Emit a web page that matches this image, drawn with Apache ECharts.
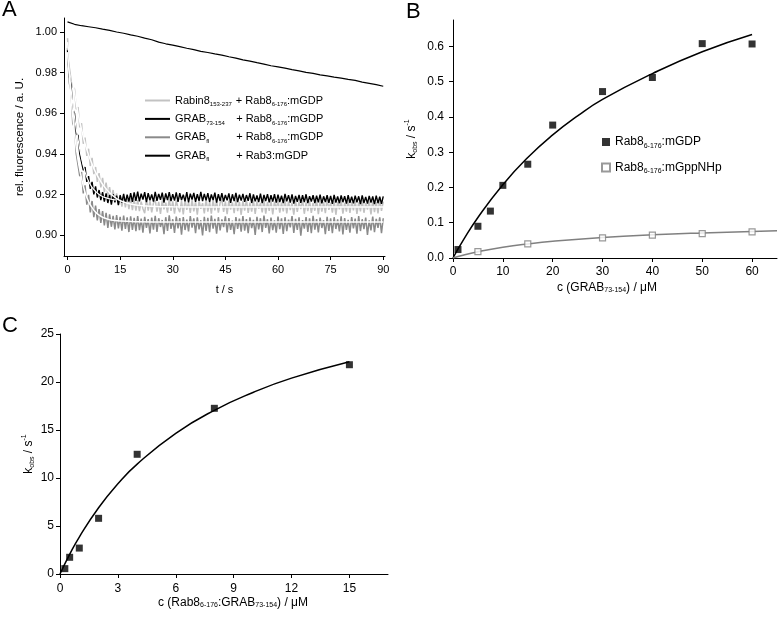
<!DOCTYPE html>
<html><head><meta charset="utf-8">
<script src="https://cdn.jsdelivr.net/npm/echarts@6/dist/echarts.min.js"></script>
<style>html,body{margin:0;padding:0;background:#fff}#c{width:778px;height:618px}</style>
</head><body><div id="c"></div>
<script>
const FONT = '"Liberation Sans", Arial, sans-serif';

// ---------- Panel A: fluorescence traces (sampled every 0.5 s) ----------
const timeA = [0,0.5,1,1.5,2,2.5,3,3.5,4,4.5,5,5.5,6,6.5,7,7.5,8,8.5,9,9.5,
10,10.5,11,11.5,12,12.5,13,13.5,14,14.5,15,15.5,16,16.5,17,17.5,18,18.5,19,19.5,
20,20.5,21,21.5,22,22.5,23,23.5,24,24.5,25,25.5,26,26.5,27,27.5,28,28.5,29,29.5,
30,30.5,31,31.5,32,32.5,33,33.5,34,34.5,35,35.5,36,36.5,37,37.5,38,38.5,39,39.5,
40,40.5,41,41.5,42,42.5,43,43.5,44,44.5,45,45.5,46,46.5,47,47.5,48,48.5,49,49.5,
50,50.5,51,51.5,52,52.5,53,53.5,54,54.5,55,55.5,56,56.5,57,57.5,58,58.5,59,59.5,
60,60.5,61,61.5,62,62.5,63,63.5,64,64.5,65,65.5,66,66.5,67,67.5,68,68.5,69,69.5,
70,70.5,71,71.5,72,72.5,73,73.5,74,74.5,75,75.5,76,76.5,77,77.5,78,78.5,79,79.5,
80,80.5,81,81.5,82,82.5,83,83.5,84,84.5,85,85.5,86,86.5,87,87.5,88,88.5,89,89.5,90];
const rabin8Trace = [0.997,0.985,0.985,0.973,0.972,0.962,0.963,0.953,0.955,0.945,0.948,0.939,0.9425,0.934,0.938,0.930,0.9335,0.9262,0.9305,0.9235,
0.9282,0.9212,0.9258,0.9195,0.9236,0.9172,0.9222,0.9158,0.9205,0.9149,0.9198,0.9140,0.9191,0.9136,0.9185,0.9128,0.9181,0.9123,0.9177,0.9120,
0.9172,0.9118,0.9165,0.9130,0.9108,0.9176,0.9121,0.9169,0.9112,0.9158,0.9174,0.9115,0.9163,0.9104,0.9170,0.9127,0.9160,0.9110,0.9178,0.9119,
0.9166,0.9106,0.9171,0.9133,0.9113,0.9168,0.9102,0.9175,0.9124,0.9161,0.9109,0.9173,0.9117,0.9164,0.9101,0.9169,0.9129,0.9157,0.9107,0.9177,
0.9116,0.9162,0.9105,0.9172,0.9122,0.9167,0.9111,0.9159,0.9176,0.9114,0.9165,0.9103,0.9170,0.9126,0.9161,0.9108,0.9174,0.9118,0.9163,0.9100,
0.9168,0.9121,0.9173,0.9109,0.9160,0.9115,0.9171,0.9104,0.9166,0.9130,0.9158,0.9112,0.9175,0.9106,0.9162,0.9119,0.9169,0.9102,0.9164,0.9125,
0.9172,0.9110,0.9160,0.9117,0.9176,0.9107,0.9165,0.9123,0.9159,0.9101,0.9170,0.9114,0.9163,0.9128,0.9174,0.9105,0.9161,0.9118,0.9167,0.9109,
0.9158,0.9120,0.9173,0.9103,0.9166,0.9116,0.9162,0.9108,0.9177,0.9124,0.9160,0.9111,0.9169,0.9100,0.9164,0.9127,0.9171,0.9106,0.9159,0.9115,
0.9175,0.9109,0.9163,0.9122,0.9168,0.9104,0.9161,0.9117,0.9172,0.9110,0.9157,0.9126,0.9166,0.9102,0.9170,0.9113,0.9162,0.9107,0.9174,0.9119,0.9165];
const grabflRab8Trace = [0.992,0.975,0.971,0.955,0.953,0.940,0.940,0.929,0.931,0.9205,0.9245,0.9150,0.9198,0.9112,0.9168,0.9088,0.9145,0.9072,0.9128,0.9060,
0.9118,0.9048,0.9110,0.9035,0.9102,0.9041,0.9095,0.9028,0.9099,0.9033,0.9090,0.9022,0.9096,0.9030,0.9087,0.9015,0.9092,0.9026,0.9085,0.9019,
0.9093,0.9024,0.9081,0.9012,0.9090,0.9035,0.9079,0.9008,0.9086,0.9027,0.9095,0.9016,0.9083,0.9040,0.9074,0.9005,0.9088,0.9021,0.9097,0.9030,
0.9078,0.9011,0.9091,0.9033,0.9084,0.9002,0.9089,0.9025,0.9076,0.9018,0.9094,0.9037,0.9082,0.9009,0.9087,0.9028,0.9073,0.8998,0.9090,0.9020,
0.9085,0.9014,0.9096,0.9032,0.9080,0.9007,0.9088,0.9023,0.9077,0.9039,0.9092,0.9013,0.9084,0.9026,0.9071,0.9004,0.9089,0.9031,0.9081,0.9017,
0.9094,0.9022,0.9079,0.9010,0.9087,0.9034,0.9075,0.9001,0.9090,0.9028,0.9083,0.9015,0.9096,0.9036,0.9078,0.9008,0.9086,0.9024,0.9072,0.9012,
0.9091,0.9029,0.9082,0.9006,0.9088,0.9019,0.9076,0.9038,0.9093,0.9011,0.9080,0.9025,0.9087,0.8997,0.9074,0.9032,0.9089,0.9016,0.9083,0.9009,
0.9095,0.9027,0.9079,0.9013,0.9086,0.9035,0.9073,0.9004,0.9090,0.9021,0.9082,0.9010,0.9088,0.9030,0.9077,0.9018,0.9092,0.9003,0.9084,0.9026,
0.9075,0.9012,0.9089,0.9033,0.9081,0.9007,0.9094,0.9020,0.9078,0.9029,0.9086,0.9001,0.9072,0.9023,0.9091,0.9014,0.9080,0.9036,0.9087,0.9010,0.9083];
const grab73Trace = [0.991,0.978,0.974,0.962,0.960,0.950,0.949,0.940,0.940,0.932,0.9335,0.9262,0.9290,0.9228,0.9262,0.9200,0.9240,0.9185,0.9222,0.9172,
0.9212,0.9165,0.9205,0.9158,0.9198,0.9150,0.9201,0.9162,0.9194,0.9148,0.9196,0.9160,0.9203,0.9157,0.9199,0.9165,0.9206,0.9163,0.9210,0.9168,
0.9214,0.9166,0.9204,0.9175,0.9211,0.9162,0.9207,0.9171,0.9200,0.9165,0.9213,0.9169,0.9203,0.9174,0.9209,0.9160,0.9205,0.9172,0.9212,0.9167,
0.9202,0.9170,0.9210,0.9163,0.9206,0.9173,0.9199,0.9166,0.9211,0.9161,0.9204,0.9175,0.9208,0.9164,0.9201,0.9169,0.9213,0.9167,0.9203,0.9171,
0.9207,0.9163,0.9200,0.9172,0.9209,0.9160,0.9202,0.9168,0.9206,0.9165,0.9198,0.9171,0.9205,0.9159,0.9201,0.9167,0.9208,0.9162,0.9199,0.9170,
0.9203,0.9164,0.9197,0.9169,0.9206,0.9158,0.9200,0.9166,0.9195,0.9163,0.9204,0.9157,0.9198,0.9168,0.9202,0.9161,0.9196,0.9165,0.9201,0.9160,
0.9199,0.9163,0.9194,0.9158,0.9203,0.9166,0.9197,0.9160,0.9200,0.9155,0.9193,0.9164,0.9198,0.9159,0.9196,0.9162,0.9201,0.9157,0.9192,0.9165,
0.9197,0.9158,0.9194,0.9161,0.9199,0.9156,0.9191,0.9163,0.9196,0.9159,0.9193,0.9154,0.9198,0.9160,0.9190,0.9157,0.9195,0.9162,0.9192,0.9155,
0.9197,0.9159,0.9189,0.9156,0.9194,0.9161,0.9191,0.9153,0.9196,0.9158,0.9188,0.9155,0.9193,0.9160,0.9190,0.9152,0.9194,0.9157,0.9189,0.9154,0.9191];
const timeRab3 = [0,2,4,6,8,10,12,14,16,18,20,22,24,26,28,30,32,34,36,38,40,42,44,46,48,50,52,54,56,58,60,62,64,66,68,70,72,74,76,78,80,82,84,86,88,90];
const grabflRab3Trace = [1.0050,1.0038,1.0031,1.0026,1.0021,1.0014,1.0008,1.0000,0.9994,0.9986,0.9979,0.9970,0.9962,0.9950,0.9942,0.9935,0.9928,0.9920,0.9913,0.9905,0.9899,0.9892,0.9886,0.9878,0.9871,0.9863,0.9857,0.9849,0.9842,0.9834,0.9828,0.9822,0.9815,0.9809,0.9801,0.9796,0.9789,0.9784,0.9778,0.9773,0.9767,0.9762,0.9753,0.9747,0.9741,0.9733];
const fitRabin8Time = [0,1,2,3,4,5,6,7,8,9,10,12,14,16,18,20,25,30,40,60,90];
const fitRabin8 = [0.995,0.982,0.970,0.960,0.952,0.945,0.9395,0.935,0.931,0.9278,0.925,0.9208,0.918,0.9163,0.9153,0.9147,0.9141,0.9139,0.9138,0.9138,0.9138];
const fitGrabflTime = [0,1,2,3,4,5,6,7,8,9,10,12,15,20,30,90];
const fitGrabfl = [0.990,0.968,0.950,0.937,0.928,0.921,0.9165,0.9135,0.9113,0.9098,0.9088,0.9076,0.9069,0.9066,0.9065,0.9065];
const fitGrab73Time = [0,1,2,3,4,5,6,7,8,9,10,11,12,13,14];
const fitGrab73 = [0.990,0.972,0.958,0.947,0.938,0.931,0.9265,0.9235,0.9215,0.920,0.919,0.9183,0.9178,0.9175,0.9173];
const ticksAx = [0,15,30,45,60,75,90];
const ticksAy = [0.90,0.92,0.94,0.96,0.98,1.00];

// ---------- Panel B ----------
const concB = [1,5,7.5,10,15,20,30,40,50,60];
const kobsGDP = [0.024,0.090,0.133,0.206,0.266,0.377,0.472,0.512,0.608,0.607];
const concB2 = [5,15,30,40,50,60];
const kobsGppNHp = [0.018,0.040,0.057,0.065,0.069,0.074];
const fitGDPx = [0,2,5,10,15,20,25,30,40,50,60];
const fitGDP = [0,0.049,0.115,0.208,0.285,0.349,0.403,0.450,0.523,0.585,0.634];
const fitGppx = [0,2,5,10,15,20,30,40,50,60,65];
const fitGpp = [0,0.0079,0.0178,0.0305,0.040,0.0474,0.058,0.0656,0.0711,0.0753,0.077];
const ticksBx = [0,10,20,30,40,50,60];
const ticksBy = [0,0.1,0.2,0.3,0.4,0.5,0.6];

// ---------- Panel C ----------
const concC = [0.25,0.5,1,2,4,8,15];
const kobsC = [0.56,1.74,2.7,5.8,12.47,17.26,21.8];
const fitCx = [0,0.5,1,2,3,4,6,8,10,12,15];
const fitC = [0,2.04,3.85,6.9,9.4,11.45,14.65,17.05,18.9,20.4,22.1];
const ticksCx = [0,3,6,9,12,15];
const ticksCy = [0,5,10,15,20,25];

const zip = (xs, ys) => xs.map((x, i) => [x, ys[i]]);

const subRich = (fs, sfs) => ({
  m: {fontSize: fs, fontFamily: FONT, color: '#000', lineHeight: fs + 3},
  s: {fontSize: sfs, fontFamily: FONT, color: '#000', lineHeight: 5, verticalAlign: 'bottom'},
  u: {fontSize: sfs, fontFamily: FONT, color: '#000', lineHeight: 5, verticalAlign: 'top'},
  w1: {fontSize: sfs, fontFamily: FONT, color: '#000', lineHeight: 5, verticalAlign: 'bottom', width: 26},
  w2: {fontSize: sfs, fontFamily: FONT, color: '#000', lineHeight: 5, verticalAlign: 'bottom', width: 30}
});

function axis(grid, min, max, ticks, fs, margin, fmt, name, nameGap, extra) {
  return Object.assign({
    type: 'value', gridIndex: grid, min: min, max: max,
    axisLine: {show: true, onZero: false, lineStyle: {color: '#000', width: 1}},
    axisTick: {show: true, length: 4, customValues: ticks, lineStyle: {color: '#000', width: 1}},
    axisLabel: {customValues: ticks, fontSize: fs, fontFamily: FONT, color: '#000', margin: margin, formatter: fmt},
    splitLine: {show: false},
    name: name, nameLocation: 'middle', nameGap: nameGap,
    nameTextStyle: {fontSize: fs, fontFamily: FONT, color: '#000', rich: subRich(fs, 7)}
  }, extra || {});
}

const lineA = (name, xs, ys, color, w, z) => ({
  name: name, type: 'line', xAxisIndex: 0, yAxisIndex: 0, data: zip(xs, ys),
  symbol: 'none', showSymbol: false, color: color,
  lineStyle: {color: color, width: w, join: 'bevel'}, itemStyle: {color: color}, z: z
});

const legendA = {
  Rabin8: '{m|Rabin8}{w1|153-237}{m|+ Rab8}{s|6-176}{m|:mGDP}',
  GRAB73: '{m|GRAB}{w2|73-154}{m|+ Rab8}{s|6-176}{m|:mGDP}',
  GRABflRab8: '{m|GRAB}{w2|fl}{m|+ Rab8}{s|6-176}{m|:mGDP}',
  GRABflRab3: '{m|GRAB}{w2|fl}{m|+ Rab3:mGDP}'
};
const legendB = {
  GDP: '{m|Rab8}{s|6-176}{m|:mGDP}',
  GppNHp: '{m|Rab8}{s|6-176}{m|:mGppNHp}'
};

const chart = echarts.init(document.getElementById('c'), null, {renderer: 'canvas'});
chart.setOption({
  animation: false,
  backgroundColor: '#fff',
  grid: [
    {left: 64, top: 18, width: 321, height: 238},
    {left: 453, top: 20, width: 324, height: 238},
    {left: 60, top: 334, width: 328, height: 240}
  ],
  xAxis: [
    axis(0, -1, 90.5, ticksAx, 11, 8, v => String(v), 't / s', 28),
    axis(1, 0, 65, ticksBx, 12, 8, v => String(v), 'c (GRAB{s|73-154}) / μM', 24,
      {nameTextStyle: {fontSize: 12, fontFamily: FONT, color: '#000', padding: [0, 16, 0, 0], rich: subRich(12, 7)}}),
    axis(2, 0, 17, ticksCx, 12, 9, v => String(v), 'c (Rab8{s|6-176}:GRAB{s|73-154}) / μM', 23,
      {nameTextStyle: {fontSize: 12, fontFamily: FONT, color: '#000', padding: [0, 0, 0, 18], rich: subRich(12, 7)}})
  ],
  yAxis: [
    axis(0, 0.8897, 1.0069, ticksAy, 11, 7, v => v.toFixed(2), 'rel. fluorescence / a. U.', 38,
      {nameTextStyle: {fontSize: 11.5, fontFamily: FONT, color: '#000'}}),
    axis(1, 0, 0.675, ticksBy, 12, 9, v => v.toFixed(1), '{m|k}{s|obs}{m| / s}{u|-1}', 34),
    axis(2, 0, 25, ticksCy, 12, 6, v => String(v), '{m|k}{s|obs}{m| / s}{u|-1}', 24)
  ],
  legend: [
    {
      data: ['Rabin8', 'GRAB73', 'GRABflRab8', 'GRABflRab3'],
      orient: 'vertical', left: 145, top: 95, itemWidth: 25, itemHeight: 2, icon: 'rect',
      itemGap: 5.9, selectedMode: false, padding: 0,
      textStyle: {fontSize: 11, fontFamily: FONT, color: '#000', rich: subRich(11, 6)},
      formatter: n => legendA[n]
    },
    {
      data: ['GDP', 'GppNHp'],
      orient: 'vertical', left: 601, top: 136, itemWidth: 8, itemHeight: 8,
      itemGap: 12, selectedMode: false, padding: 0,
      textStyle: {fontSize: 12, fontFamily: FONT, color: '#000', rich: subRich(12, 7)},
      formatter: n => legendB[n]
    }
  ],
  graphic: [
    {type: 'text', left: 2, top: -1, style: {text: 'A', fontSize: 22, fontFamily: FONT, fill: '#000'}},
    {type: 'text', left: 406, top: 1, style: {text: 'B', fontSize: 22, fontFamily: FONT, fill: '#000'}},
    {type: 'text', left: 2, top: 315, style: {text: 'C', fontSize: 22, fontFamily: FONT, fill: '#000'}}
  ],
  series: [
    lineA('GRABflRab8', timeA, grabflRab8Trace, '#8a8a8a', 1.5, 2),
    lineA('Rabin8', timeA, rabin8Trace, '#c2c2c2', 1.5, 3),
    lineA('GRAB73', timeA, grab73Trace, '#000000', 1.4, 4),
    lineA('GRABflRab3', timeRab3, grabflRab3Trace, '#000000', 1.2, 5),
    Object.assign(lineA('fitRabin8', fitRabin8Time, fitRabin8, '#ffffff', 1.5, 6), {smooth: 0.4}),
    Object.assign(lineA('fitGrabfl', fitGrabflTime, fitGrabfl, '#ffffff', 1.5, 6), {smooth: 0.4}),
    Object.assign(lineA('fitGrab73', fitGrab73Time, fitGrab73, '#ffffff', 1.2, 6), {smooth: 0.4}),
    {
      name: 'fitGDP', type: 'line', xAxisIndex: 1, yAxisIndex: 1, data: zip(fitGDPx, fitGDP),
      symbol: 'none', smooth: true, lineStyle: {color: '#000', width: 1.5}, itemStyle: {color: '#000'}
    },
    {
      name: 'fitGpp', type: 'line', xAxisIndex: 1, yAxisIndex: 1, data: zip(fitGppx, fitGpp),
      symbol: 'none', smooth: true, lineStyle: {color: '#808080', width: 1.5}, itemStyle: {color: '#808080'}
    },
    {
      name: 'GDP', type: 'scatter', xAxisIndex: 1, yAxisIndex: 1, data: zip(concB, kobsGDP),
      symbol: 'rect', symbolSize: 7, itemStyle: {color: '#000'}, z: 5
    },
    {
      name: 'GppNHp', type: 'scatter', xAxisIndex: 1, yAxisIndex: 1, data: zip(concB2, kobsGppNHp),
      symbol: 'rect', symbolSize: 6, itemStyle: {color: '#fff', borderColor: '#808080', borderWidth: 1.2}, z: 5
    },
    {
      name: 'fitC', type: 'line', xAxisIndex: 2, yAxisIndex: 2, data: zip(fitCx, fitC),
      symbol: 'none', smooth: true, lineStyle: {color: '#000', width: 1.5}, itemStyle: {color: '#000'}
    },
    {
      name: 'C', type: 'scatter', xAxisIndex: 2, yAxisIndex: 2, data: zip(concC, kobsC),
      symbol: 'rect', symbolSize: 7, itemStyle: {color: '#000'}, z: 5
    }
  ]
});
</script>
</body></html>
